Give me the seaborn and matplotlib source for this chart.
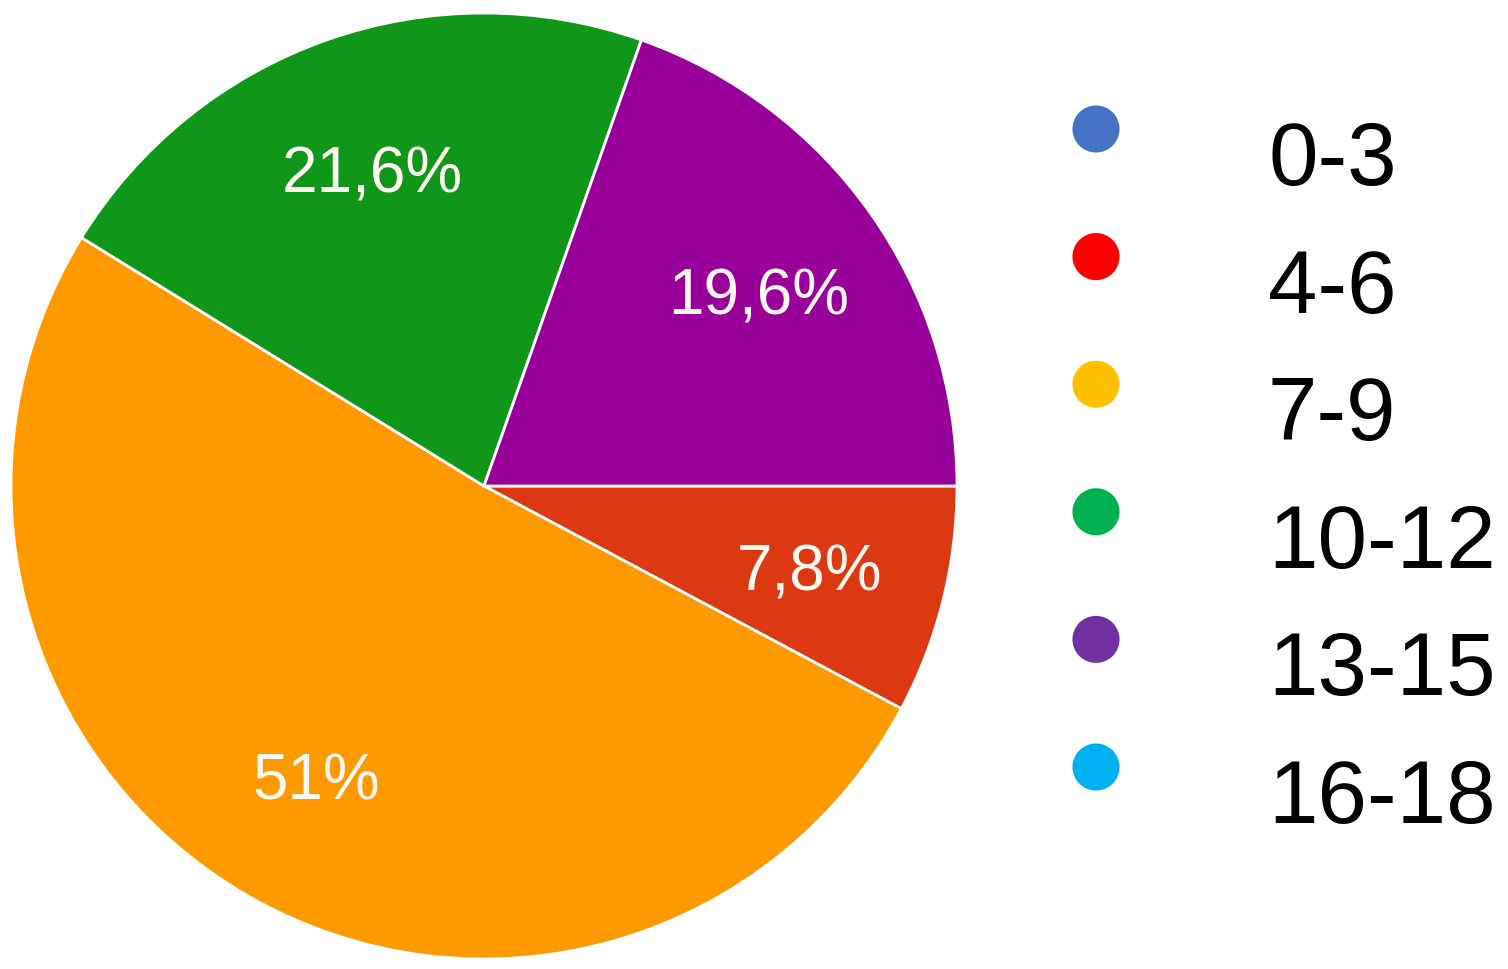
import matplotlib
matplotlib.use("Agg")
import matplotlib.pyplot as plt
import seaborn as sns
import pandas as pd
import numpy as np

# ---- data ----
categories = ["0-3", "4-6", "7-9", "10-12", "13-15", "16-18"]
percentages = [0.0, 7.8, 51.0, 21.6, 19.6, 0.0]
slice_colors = ["#3366cc", "#dc3912", "#ff9900", "#109618", "#990099", "#0099c6"]
legend_colors = ["#4472c4", "#ff0000", "#ffc000", "#00b050", "#7030a0", "#00b0f0"]

sns.set_theme(style="white")
plt.rcParams["font.family"] = ["Liberation Sans", "DejaVu Sans"]

W, H = 1508, 970
fig = plt.figure(figsize=(W / 100, H / 100), dpi=100)
fig.patch.set_facecolor("white")

# ---- pie ----
cx, cy, r = 484, 487, 473
ax = fig.add_axes([(cx - r) / W, (H - cy - r) / H, 2 * r / W, 2 * r / H])
nz = [(c, p, col) for c, p, col in zip(categories, percentages, slice_colors) if p > 0]
vals = [p for _, p, _ in nz]
cols = [col for _, _, col in nz]


def fmt(p):
    s = f"{p:.1f}".rstrip("0").rstrip(".")
    return s.replace(".", ",") + "%"


labels_pct = [fmt(v) for v in vals]
wedges, _ = ax.pie(vals, colors=cols, startangle=0, counterclock=False,
                   radius=1.0, wedgeprops=dict(edgecolor="white", linewidth=2))
for w, lab in zip(wedges, labels_pct):
    mid = np.deg2rad((w.theta1 + w.theta2) / 2)
    d = 0.71
    ax.text(d * np.cos(mid), d * np.sin(mid) - 0.01, lab, ha="center", va="center",
            color="#fff8f0", fontsize=46)
ax.set_xlim(-1, 1)
ax.set_ylim(-1, 1)
ax.set_aspect("equal")
ax.axis("off")

# ---- legend ----
lax = fig.add_axes([0, 0, 1, 1])
lax.set_xlim(0, W)
lax.set_ylim(H, 0)
lax.axis("off")
leg = pd.DataFrame({"cat": categories, "idx": range(len(categories))})
leg["y"] = 130 + 127.6 * leg["idx"]
leg["x"] = 1096
sns.scatterplot(data=leg, x="x", y="y", hue="cat", palette=legend_colors,
                s=1150, linewidth=0, legend=False, ax=lax)
for _, row in leg.iterrows():
    lax.text(1268, row["y"] + 32, row["cat"], ha="left", va="center",
             fontsize=64, color="black")

fig.savefig("out.png", dpi=100, facecolor="white")
